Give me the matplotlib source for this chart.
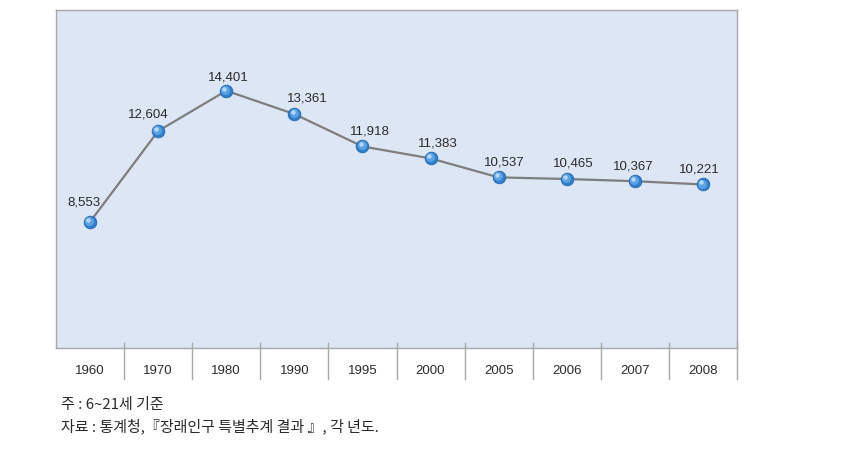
import matplotlib
matplotlib.use("Agg")
import matplotlib.pyplot as plt
import matplotlib.transforms as mtransforms

# data
years = ["1960", "1970", "1980", "1990", "1995", "2000", "2005", "2006", "2007", "2008"]
values = [8553, 12604, 14401, 13361, 11918, 11383, 10537, 10465, 10367, 10221]
notes = ["주 : 6~21세 기준", "자료 : 통계청,『장래인구 특별추계 결과 』, 각 년도."]

# label nudges (pixels)
label_dx = [-6, -10, 2, 13, 7, 7, 6, 7, -2, -4]
label_dy = [16, 14, 10, 13, 12, 12, 12, 12, 12, 12]

plt.rcParams['font.family'] = ['Liberation Sans', 'Noto Sans CJK KR', 'DejaVu Sans']

W, H = 846, 466
fig = plt.figure(figsize=(W / 100, H / 100), dpi=100)
left, top, right, bottom = 56, 10, 737, 348
ax = fig.add_axes([left / W, 1 - bottom / H, (right - left) / W, (bottom - top) / H])
ax.set_facecolor("#dce6f5")

x = list(range(len(years)))
ax.plot(x, values, color="#7e7e7e", lw=1.6, zorder=2)
# sphere-like markers: base, lighter body, small highlight
ax.plot(x, values, "o", ms=9, color="#2f7fcf", mec="#2a6cb5", mew=0.7, zorder=3)
mid = mtransforms.offset_copy(ax.transData, fig=fig, x=-0.6, y=0.7, units="points")
ax.plot(x, values, "o", ms=6.5, color="#5ba2e3", mec="none", transform=mid, zorder=4)
hl = mtransforms.offset_copy(ax.transData, fig=fig, x=-1.3, y=1.5, units="points")
ax.plot(x, values, "o", ms=3.2, color="#cfe4f8", mec="none", alpha=0.8, transform=hl, zorder=5)

for i, v in enumerate(values):
    ax.annotate(f"{v:,}", (i, v), xytext=(label_dx[i] * 0.72, label_dy[i] * 0.72),
                textcoords="offset points", ha="center", va="baseline",
                fontsize=9.5, color="#2a2a2a")

ax.set_xlim(-0.5, len(years) - 0.5)
ax.set_ylim(2930, 18000)
ax.set_yticks([])
ax.set_xticks(x)
ax.set_xticklabels(years, fontsize=9.5, color="#2a2a2a")
ax.tick_params(axis="x", length=0, pad=12)

for s in ax.spines.values():
    s.set_color("#a8a8a8")
    s.set_linewidth(1.0)

# separators under the axis
trans = mtransforms.blended_transform_factory(ax.transData, ax.transAxes)
y_top = 5 / (bottom - top)
y_bot = -(379 - bottom) / (bottom - top)
for i in range(len(years)):
    ax.plot([i + 0.5, i + 0.5], [y_top, y_bot], color="#a8a8a8", lw=1.0,
            transform=trans, clip_on=False)

fig.text(61 / W, 1 - 405 / H, notes[0], fontsize=10.8, color="#2a2a2a", va="center",
         family=['Noto Sans CJK KR', 'DejaVu Sans'])
fig.text(61 / W, 1 - 426 / H, notes[1], fontsize=10.8, color="#2a2a2a", va="center",
         family=['Noto Sans CJK KR', 'DejaVu Sans'])

fig.savefig("out.png", dpi=100)
